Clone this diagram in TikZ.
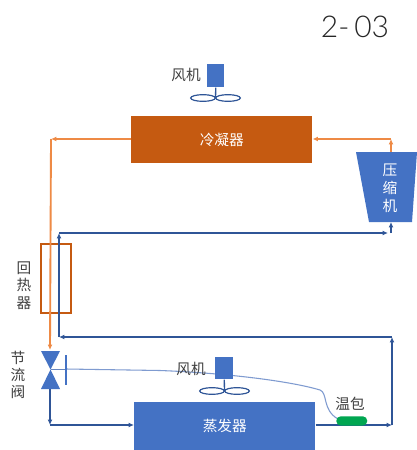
\documentclass[tikz,border=0pt]{standalone}
\usepackage{fontspec}
\setmainfont{Noto Sans CJK SC}
\newfontfamily\numfont{Lato Light}
\usetikzlibrary{arrows.meta,shapes.geometric}
\definecolor{bluefill}{HTML}{4472C4}
\definecolor{bluepipe}{HTML}{2F5597}
\definecolor{orangefill}{HTML}{C55A11}
\definecolor{orangepipe}{HTML}{EE8A45}
\definecolor{bulbgreen}{HTML}{00A651}
\definecolor{capline}{HTML}{7F9BD0}
\tikzset{
  x=0.75pt,y=-0.75pt,
  blockbox/.style={anchor=north west,inner sep=0pt,fill=bluefill,text=white,font=\fontsize{11}{13}\selectfont},
  label/.style={inner sep=0pt,text=black!75,font=\fontsize{11}{13}\selectfont,align=center},
  bluepipeline/.style={draw=bluepipe,line width=1.3pt,-{Latex[length=4pt,width=3.6pt]}},
  orangepipeline/.style={draw=orangepipe,line width=1.4pt,-{Latex[length=4pt,width=3.6pt]}},
  blade/.style={draw=bluepipe,line width=0.9pt,fill=white},
  stem/.style={draw=bluepipe,line width=1pt},
}
\begin{document}
\begin{tikzpicture}
\useasboundingbox (0,0) rectangle (417,450);
\fill[white] (0,0) rectangle (417,450);

% title
\node[inner sep=0pt,text=black!85,font=\numfont\fontsize{22.5}{26}\selectfont] (title) at (355,26.5) {2-\,03};

% condenser
\node[blockbox,fill=orangefill,minimum width=135.75pt,minimum height=35.25pt] (cond) at (131,116) {冷凝器};

% compressor
\fill[bluefill] (356,152) -- (417,152) -- (412,222) -- (369,222) -- cycle;
\coordinate (compTop) at (391,152);
\coordinate (compBot) at (391,222);
\node[inner sep=0pt,text=white,font=\fontsize{11}{13.5}\selectfont,align=center] (compText) at (390,188) {压\\缩\\机};

% regenerator
\node[anchor=north west,inner sep=0pt,draw=orangefill,line width=1.4pt,minimum width=22.5pt,minimum height=51.75pt] (regen) at (40,243) {};
\node[label] (regenText) at (24,285.5) {回\\热\\器};

% evaporator
\node[blockbox,minimum width=135.75pt,minimum height=36pt] (evap) at (134,402) {蒸发器};

% upper fan
\node[blockbox,minimum width=12.75pt,minimum height=17.25pt] (fanA) at (207,64) {};
\node[label] (fanAText) at (186,75) {风机};
\node[blade,ellipse,minimum width=18.5pt,minimum height=5pt,inner sep=0pt] (bladeA1) at (203,98) {};
\node[blade,ellipse,minimum width=18.5pt,minimum height=5pt,inner sep=0pt] (bladeA2) at (228,98) {};
\coordinate (hubA) at (215.5,98);
\draw[stem] (fanA.south) -- (hubA);

% capillary
\coordinate (capStart) at (66,369);
\coordinate (capBend) at (320,390);

% lower fan
\draw[capline,line width=0.8pt] (capStart) -- (160,370.5) .. controls (225,373) and (290,381) .. (capBend) .. controls (328,393) and (322,410) .. (338,419);
\node[blockbox,minimum width=13.5pt,minimum height=16.5pt] (fanB) at (215,357) {};
\node[label] (fanBText) at (191,369) {风机};
\node[blade,ellipse,minimum width=18.5pt,minimum height=5pt,inner sep=0pt] (bladeB1) at (212,391) {};
\node[blade,ellipse,minimum width=18.5pt,minimum height=5pt,inner sep=0pt] (bladeB2) at (237,391) {};
\coordinate (hubB) at (224.5,391);
\draw[stem] (fanB.south) -- (hubB);

% blue pipes
\coordinate (evapOutTurn) at (392,425);
\coordinate (retRight) at (392,337);
\coordinate (retLeft) at (59,337);
\coordinate (regenTop) at (59,233);
\coordinate (compIn) at (388,233);
\coordinate (compInTurn) at (391,233);
\coordinate (valveOut) at (50,389);
\coordinate (valveTurn) at (50,425);
\draw[bluepipeline] (valveOut) -- (valveTurn);
\draw[bluepipeline] (valveTurn) -- (evap.west |- valveTurn);
\draw[bluepipeline] (evap.east |- evapOutTurn) -- (evapOutTurn);
\draw[bluepipeline] (evapOutTurn) -- (retRight) ;
\draw[bluepipeline] (retRight) -- (retLeft);
\draw[bluepipeline] (retLeft) -- (regenTop);
\draw[bluepipeline] (regenTop) -- (compIn);
\draw[bluepipeline] (compInTurn) -- (compBot);

% bulb
\node[anchor=north west,inner sep=0pt,fill=bulbgreen,rounded corners=3.4pt,minimum width=23.25pt,minimum height=7pt] (bulb) at (336,416) {};
\node[label] (bulbText) at (350,404) {温包};

% orange pipes
\coordinate (condOutTurn) at (51,139);
\coordinate (valveIn) at (50,350);
\coordinate (compUp) at (391,139);
\draw[orangepipeline] (compTop) -- (compUp);
\draw[orangepipeline] (compUp) -- (cond.east |- compUp);
\draw[orangepipeline] (cond.west |- condOutTurn) -- (condOutTurn);
\draw[orangepipeline] (condOutTurn) -- (valveIn);

% valve
\coordinate (valveMid) at (50.5,369.5);
\fill[bluefill] (41,351) -- (60,351) -- (valveMid) -- cycle;
\fill[bluefill] (41,389) -- (60,389) -- (valveMid) -- cycle;
\coordinate (tMid) at (66,369.5);
\draw[capline!70!bluepipe,line width=0.9pt] (valveMid) -- (tMid);
\draw[bluefill,line width=0.9pt] (66,355) -- (66,385);
\node[label] (valveText) at (18,375) {节\\流\\阀};
\end{tikzpicture}
\end{document}
